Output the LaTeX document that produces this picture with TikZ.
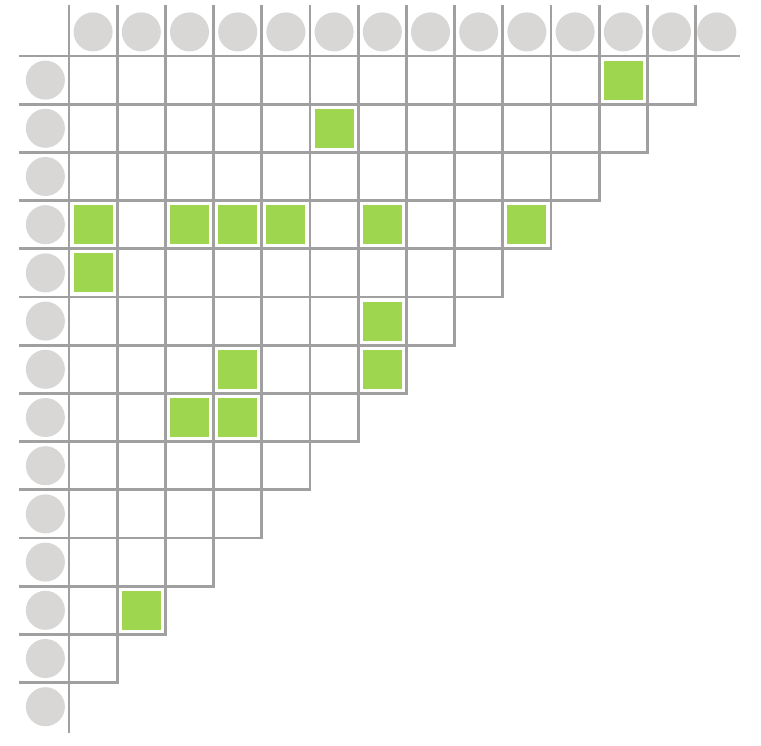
\documentclass[tikz,border=0pt]{standalone}
\usetikzlibrary{calc}

\definecolor{gridgray}{HTML}{A0A0A0}
\definecolor{dotgray}{HTML}{D9D6D6}
\definecolor{hitgreen}{HTML}{9FD650}

\begin{document}
\begin{tikzpicture}[line join=round,
  gridline/.style={draw=gridgray, line width=1.75pt, line cap=rect},
  label dot/.style={circle, fill=dotgray, minimum size=0.81cm, inner sep=0pt},
  hit/.style={rectangle, fill=hitgreen, minimum size=0.81cm, inner sep=0pt}]

  % Fix the margins of the picture
  \useasboundingbox (-1.4315,1.162) rectangle (14.357,-14.295);

  % Draw the column labels and the row labels
  \foreach \j in {1,...,13}
    \node[label dot] (top-\j) at (\j-0.5,0.5) {};
  \node[label dot] (top-14) at (13.44,0.5) {};
  \foreach \i in {1,...,14}
    \node[label dot] (left-\i) at (-0.49,-\i+0.5) {};

  % Draw the triangular grid
  \draw[gridline] (-1,0) -- (13.9,0);
  \draw[gridline] (0,1.02) -- (0,-14.02);
  \foreach \i in {1,...,13} {
    \draw[gridline] (-1,-\i) -- (14-\i,-\i);
    \draw[gridline] (\i,1.02) -- (\i,\i-14);
  }

  % Draw the matching cells
  \foreach \r/\c in {1/12, 2/6, 4/1, 4/3, 4/4, 4/5, 4/7, 4/10, 5/1, 6/7, 7/4, 7/7, 8/3, 8/4, 12/2}
    \node[hit] (hit-\r-\c) at (\c-0.5,-\r+0.5) {};

\end{tikzpicture}
\end{document}
